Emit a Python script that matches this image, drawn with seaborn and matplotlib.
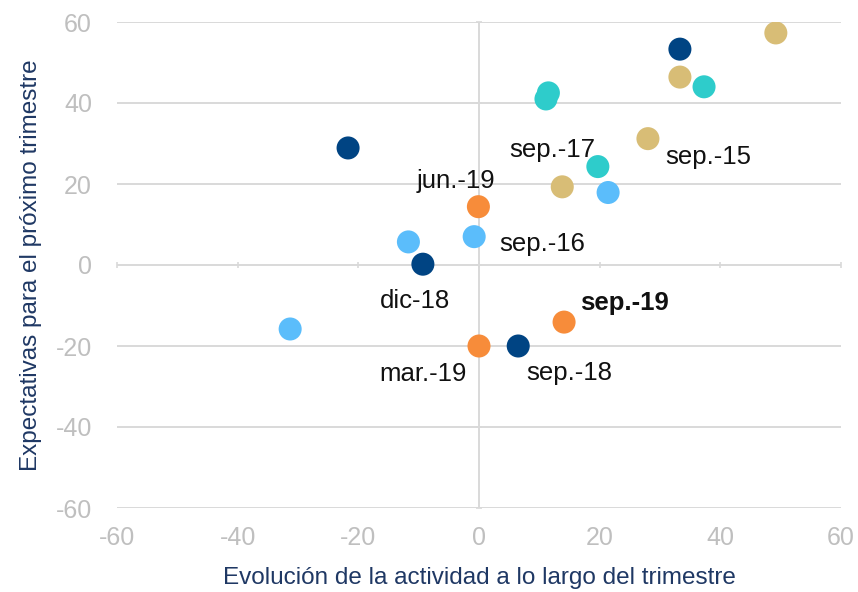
import numpy as np
import pandas as pd
import seaborn as sns
import matplotlib.pyplot as plt

# evolucion de la actividad (x) vs expectativas (y), por año
actividad = [49.2, 33.3, 28.0, 13.8,
             21.4, -0.8, -11.7, -31.3,
             11.5, 11.1, 37.3, 19.7,
             33.3, -21.7, -9.3, 6.5,
             -0.1, 0.0, 14.1]
expectativas = [57.3, 46.4, 31.2, 19.3,
                17.9, 7.0, 5.7, -15.8,
                42.5, 41.0, 44.0, 24.3,
                53.3, 28.9, 0.2, -20.0,
                14.4, -20.0, -14.1]
anio = ['2015'] * 4 + ['2016'] * 4 + ['2017'] * 4 + ['2018'] * 4 + ['2019'] * 3
etiqueta = ['', '', 'sep.-15', '',
            '', 'sep.-16', '', '',
            '', '', '', 'sep.-17',
            '', '', 'dic-18', 'sep.-18',
            'jun.-19', 'mar.-19', 'sep.-19']

ticks = [-60, -40, -20, 0, 20, 40, 60]

colores = {'2015': '#D8BD76', '2016': '#5BBDFB', '2017': '#2ECCCB',
           '2018': '#004483', '2019': '#F78C3A'}

# desplazamiento de cada etiqueta respecto a su punto (pixeles)
offsets = {'sep.-15': (60, -18), 'sep.-16': (68, -7), 'sep.-17': (-46, 17),
           'dic-18': (-8, -37), 'sep.-18': (51, -27), 'jun.-19': (-22, 26),
           'mar.-19': (-56, -28), 'sep.-19': (60, 19)}

df = pd.DataFrame({'x': actividad, 'y': expectativas, 'anio': anio, 'etiqueta': etiqueta})

sns.set_theme(style='white')
plt.rcParams['font.family'] = ['Liberation Sans', 'DejaVu Sans']
plt.rcParams['axes.unicode_minus'] = False

fig = plt.figure(figsize=(8.58, 5.92), dpi=100)
ax = fig.add_axes([117 / 858, 1 - 508 / 592, 724 / 858, 486 / 592])

grid_c = '#D9D9D9'
ax.set_xlim(-60, 60)
ax.set_ylim(-60, 60)
ax.set_xticks(ticks)
ax.set_yticks(ticks)
ax.yaxis.grid(True, color=grid_c, lw=1.4)
ax.xaxis.grid(False)
ax.axvline(0, color=grid_c, lw=1.4, zorder=0)
for s in ax.spines.values():
    s.set_visible(False)
ax.tick_params(axis='both', length=0, labelsize=18, labelcolor='#BFBFBF')
ax.tick_params(axis='y', pad=18)
ax.tick_params(axis='x', pad=13)
ax.set_axisbelow(True)

# marcas en los ejes que cruzan en cero
sx = ax.secondary_xaxis(0.5)
sx.set_xticks(ticks)
sx.set_xticklabels([])
sx.tick_params(length=4, direction='inout', color=grid_c, width=1.2)
sy = ax.secondary_yaxis(0.5)
sy.set_yticks(ticks)
sy.set_yticklabels([])
sy.tick_params(length=4, direction='inout', color=grid_c, width=1.2)
for sec in (sx, sy):
    for s in sec.spines.values():
        s.set_visible(False)

sns.scatterplot(data=df, x='x', y='y', hue='anio', palette=colores, s=275,
                edgecolor='none', legend=False, ax=ax, zorder=3)

for _, r in df[df['etiqueta'] != ''].iterrows():
    ax.annotate(r['etiqueta'], (r['x'], r['y']), xytext=offsets[r['etiqueta']],
                textcoords='offset pixels', ha='center', va='center', fontsize=18.5,
                color='#111111', fontweight='bold' if r['etiqueta'] == 'sep.-19' else 'normal')

ax.set_xlabel('Evolución de la actividad a lo largo del trimestre', fontsize=17.5,
              color='#1F3864', labelpad=12)
ax.set_ylabel('Expectativas para el próximo trimestre', fontsize=17.5,
              color='#1F3864', labelpad=10)

fig.savefig('out.png', dpi=100)
